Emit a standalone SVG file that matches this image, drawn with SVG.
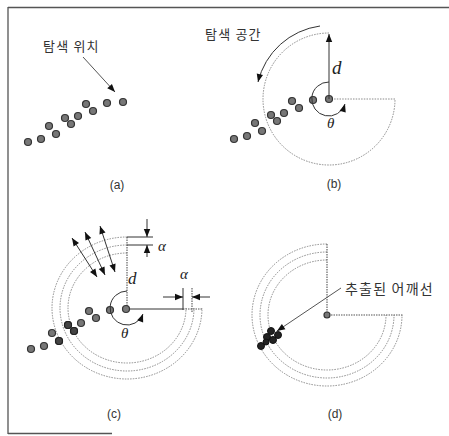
<svg xmlns="http://www.w3.org/2000/svg" width="449" height="436" viewBox="0 0 449 436">
<style>
.frame{stroke:#555;stroke-width:1.3;fill:none}
.ring{fill:none;stroke:#8a8a8a;stroke-width:1;stroke-dasharray:1.5 1.2}
.ringd{fill:none;stroke:#555;stroke-width:1.1;stroke-dasharray:1.5 1}
.solid{fill:none;stroke:#333;stroke-width:1}
.dot{fill:#777;stroke:#333;stroke-width:1.2}
.dotk{fill:#444;stroke:#222;stroke-width:1.2}
.blob{fill:#222;stroke:#111;stroke-width:1}
.kr{font-family:"Noto Sans CJK KR","Noto Sans",sans-serif;font-size:13px;fill:#333;letter-spacing:1.2px}
.lbl{font-family:"Liberation Sans",Arial,sans-serif;font-size:12px;fill:#333;text-anchor:middle}
.math{font-family:"Liberation Serif","Times New Roman",serif;font-style:italic;fill:#222}
</style>
<defs>
<marker id="ah" viewBox="0 0 10 10" refX="10" refY="5" markerWidth="9" markerHeight="8" markerUnits="userSpaceOnUse" orient="auto-start-reverse"><path d="M0,1 L10,5 L0,9 z" fill="#111"/></marker>
<g id="dots">
<circle cx="-95" cy="40" r="3.5"/><circle cx="-82" cy="37" r="3.5"/><circle cx="-67" cy="32" r="3.5"/><circle cx="-74" cy="24" r="3.5"/><circle cx="-52" cy="22" r="3.5"/><circle cx="-58" cy="16" r="3.5"/><circle cx="-45" cy="14" r="3.5"/><circle cx="-30" cy="9" r="3.5"/><circle cx="-37" cy="2" r="3.5"/><circle cx="-16" cy="1" r="3.5"/><circle cx="0" cy="0" r="3.5"/>
</g>
</defs>
<rect width="449" height="436" fill="#fff"/>
<g id="frame">
<path class="frame" d="M8,7.5 H449 M8,7 V434 M8,433.5 H112"/>
</g>

<g id="panel-a">
<text class="kr" x="43" y="51">탐색 위치</text>
<g class="dot" transform="translate(123,102)"><use href="#dots"/></g>
<text class="lbl" x="117" y="189">(a)</text>
</g>

<g id="panel-b">
<text class="kr" x="205" y="39">탐색 공간</text>
<path class="ring" d="M329,33 A66,66 0 1 0 395,99 L329,99"/>
<g class="dot" transform="translate(329,99)"><use href="#dots"/></g>
<text class="math" x="332" y="74" font-size="19">d</text>
<text class="math" x="327" y="128" font-size="15">θ</text>
<text class="lbl" x="334" y="188">(b)</text>
</g>

<g id="panel-c">
<path class="ring" d="M127,237 A75,71 0 1 0 202,308"/>
<path class="ring" d="M127,245 A67,63 0 1 0 194,308"/>
<path class="ring" d="M127,253 A59,55 0 1 0 186,308"/>
<path class="ringd" d="M127,237 V308 M183,309 H202"/>
<path class="solid" d="M127,309 H183 M127,237 H153 M127,245 H153 M183,288 V310"/>
<path class="ringd" d="M192,288 V312"/>
<g transform="translate(126,309)"><use href="#dots" class="dot"/></g>
<circle class="dotk" cx="68" cy="325" r="3.5"/><circle class="dotk" cx="74" cy="331" r="3.5"/><circle class="dotk" cx="59" cy="341" r="3.5"/>
<text class="math" x="128" y="284" font-size="17">d</text>
<text class="math" x="121" y="338" font-size="15">θ</text>
<text class="math" x="158" y="251" font-size="15">α</text>
<text class="math" x="180" y="279" font-size="15">α</text>
<text class="lbl" x="114" y="418">(c)</text>
</g>

<g id="panel-d">
<path class="ring" d="M327,244 A75,71 0 1 0 402,315"/>
<path class="ring" d="M327,252 A67,63 0 1 0 394,315"/>
<path class="ring" d="M327,260 A59,55 0 1 0 386,315"/>
<path class="ringd" d="M327,244 V315 H403"/>
<circle class="dot" cx="327" cy="315" r="3"/>
<circle class="blob" cx="261" cy="346" r="3.5"/><circle class="blob" cx="267" cy="337" r="3.5"/><circle class="blob" cx="271" cy="331" r="3.5"/><circle class="blob" cx="278" cy="335" r="3.5"/><circle class="blob" cx="273" cy="340" r="3.5"/><circle class="blob" cx="266" cy="342" r="3"/>
<text class="kr" x="345" y="294" style="font-size:14px">추출된 어깨선</text>
<text class="lbl" x="335" y="418">(d)</text>
</g>

<g id="connectors" fill="none" stroke="#333" stroke-width="1">
<path d="M83,57 L115,92" marker-end="url(#ah)" stroke="#555"/>
<path d="M320,26 A74,74 0 0 0 258,82" marker-end="url(#ah)"/>
<path d="M329,99 V34" marker-end="url(#ah)"/>
<path d="M329,82 A17,17 0 1 0 345,104" marker-end="url(#ah)"/>
<path d="M127,291 A17,17 0 1 0 143,314" marker-end="url(#ah)"/>
<path d="M72,238 L97,277" marker-start="url(#ah)" marker-end="url(#ah)"/>
<path d="M85,232 L105,275" marker-start="url(#ah)" marker-end="url(#ah)"/>
<path d="M100,226 L115,272" marker-start="url(#ah)" marker-end="url(#ah)"/>
<path d="M147,219 V237" marker-end="url(#ah)"/>
<path d="M147,257 V245" marker-end="url(#ah)"/>
<path d="M163,297 H183" marker-end="url(#ah)"/>
<path d="M210,297 H192" marker-end="url(#ah)"/>
<path d="M341,288 L277,331" marker-end="url(#ah)" stroke="#555"/>
</g>
</svg>
